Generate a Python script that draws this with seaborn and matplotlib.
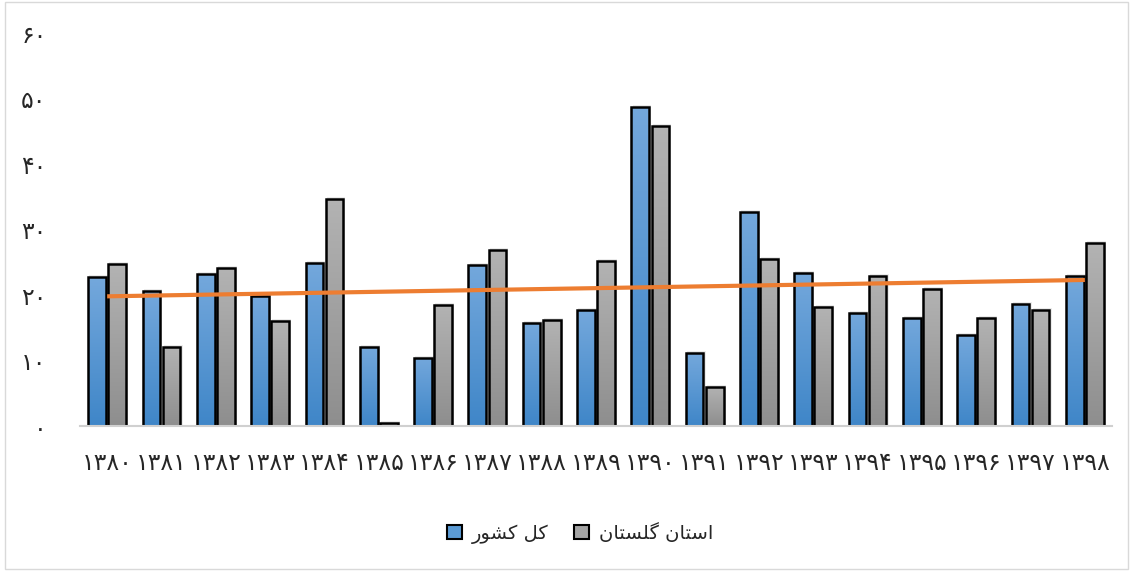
import numpy as np
import pandas as pd
import matplotlib
matplotlib.use('Agg')
import matplotlib.pyplot as plt
import seaborn as sns
from matplotlib.patches import Rectangle, Patch
from matplotlib.colors import LinearSegmentedColormap

# data
years = ['۱۳۸۰', '۱۳۸۱', '۱۳۸۲', '۱۳۸۳', '۱۳۸۴', '۱۳۸۵', '۱۳۸۶', '۱۳۸۷', '۱۳۸۸', '۱۳۸۹',
         '۱۳۹۰', '۱۳۹۱', '۱۳۹۲', '۱۳۹۳', '۱۳۹۴', '۱۳۹۵', '۱۳۹۶', '۱۳۹۷', '۱۳۹۸']
country = [22.7, 20.6, 23.2, 19.8, 24.9, 12.1, 10.4, 24.6, 15.7, 17.7,
           48.7, 11.1, 32.7, 23.4, 17.3, 16.5, 13.9, 18.6, 22.9]
golestan = [24.7, 12.1, 24.1, 16.0, 34.7, 0.5, 18.5, 26.9, 16.2, 25.2,
            45.8, 6.0, 25.5, 18.2, 22.9, 20.9, 16.5, 17.7, 27.9]
trend = [19.8, 22.3]  # trend line at first and last year
y_ticks = [0, 10, 20, 30, 40, 50, 60]
y_labels = ['۰', '۱۰', '۲۰', '۳۰', '۴۰', '۵۰', '۶۰']

# legend labels (shaped presentation forms, visual order)
lbl_country = '\uFEAD\uFEEE\uFEB8\uFB90 \uFEDE\uFB90'   # کل کشور
lbl_golestan = '\uFEE5\uFE8E\uFE98\uFEB4\uFEE0\uFB94 \uFEE5\uFE8E\uFE98\uFEB3\uFE8D'  # استان گلستان

df = pd.DataFrame({
    'year': years * 2,
    'value': country + golestan,
    'series': ['country'] * len(years) + ['golestan'] * len(years),
})

sns.set_style('white')
plt.rcParams['font.family'] = ['DejaVu Sans']

fig = plt.figure(figsize=(11.33, 5.71), dpi=100)
ax = fig.add_axes([0.0706, 0.2539, 0.9109, 0.6883])

sns.barplot(data=df, x='year', y='value', hue='series', order=years,
            hue_order=['country', 'golestan'], width=0.74, gap=0.12,
            palette=['#5b9bd5', '#a5a5a5'], edgecolor='black', linewidth=1.8,
            legend=False, ax=ax)

blue_cmap = LinearSegmentedColormap.from_list('b', ['#3f86c8', '#74a8dc'])
gray_cmap = LinearSegmentedColormap.from_list('g', ['#8e8e8e', '#b3b3b3'])
grad = np.linspace(0, 1, 256).reshape(-1, 1)
for i, p in enumerate(ax.patches):
    x, w, h = p.get_x(), p.get_width(), p.get_height()
    cmap = blue_cmap if i < len(years) else gray_cmap
    im = ax.imshow(grad, extent=[x, x + w, 0, h], origin='lower', aspect='auto',
                   cmap=cmap, zorder=p.get_zorder() - 0.1)
    im.set_clip_path(p)
    p.set_facecolor('none')
    # soft shadow
    ax.add_patch(Rectangle((x + 0.02, 0), w + 0.02, h + 0.3, facecolor='#d9d9d9',
                           edgecolor='none', alpha=0.5, zorder=p.get_zorder() - 0.2))

ax.plot([0, len(years) - 1], trend, color='#ed7d31', linewidth=3, zorder=5,
        solid_capstyle='butt')

ax.set_xlim(-0.5, len(years) - 0.5)
ax.set_ylim(0, 60)
ax.set_yticks(y_ticks)
ax.set_yticklabels(y_labels)
ax.set_xlabel('')
ax.set_ylabel('')
ax.tick_params(axis='y', length=0, pad=24, labelsize=17)
ax.tick_params(axis='x', length=0, pad=18, labelsize=17)
for s in ['top', 'right', 'left']:
    ax.spines[s].set_visible(False)
ax.spines['bottom'].set_color('#d0d0d0')
ax.spines['bottom'].set_linewidth(1.5)

handles = [Patch(facecolor='#5b9bd5', edgecolor='black', linewidth=1.5),
           Patch(facecolor='#a5a5a5', edgecolor='black', linewidth=1.5)]
fig.legend(handles, [lbl_country, lbl_golestan], loc='center',
           bbox_to_anchor=(0.512, 0.066), ncol=2, frameon=False, fontsize=14,
           handlelength=0.8, handleheight=0.8, handletextpad=0.5, columnspacing=1.3)

fig.patches.append(Rectangle((0.004, 0.004), 0.992, 0.992, transform=fig.transFigure,
                             fill=False, edgecolor='#d9d9d9', linewidth=1))

fig.savefig('out.png', dpi=100)
